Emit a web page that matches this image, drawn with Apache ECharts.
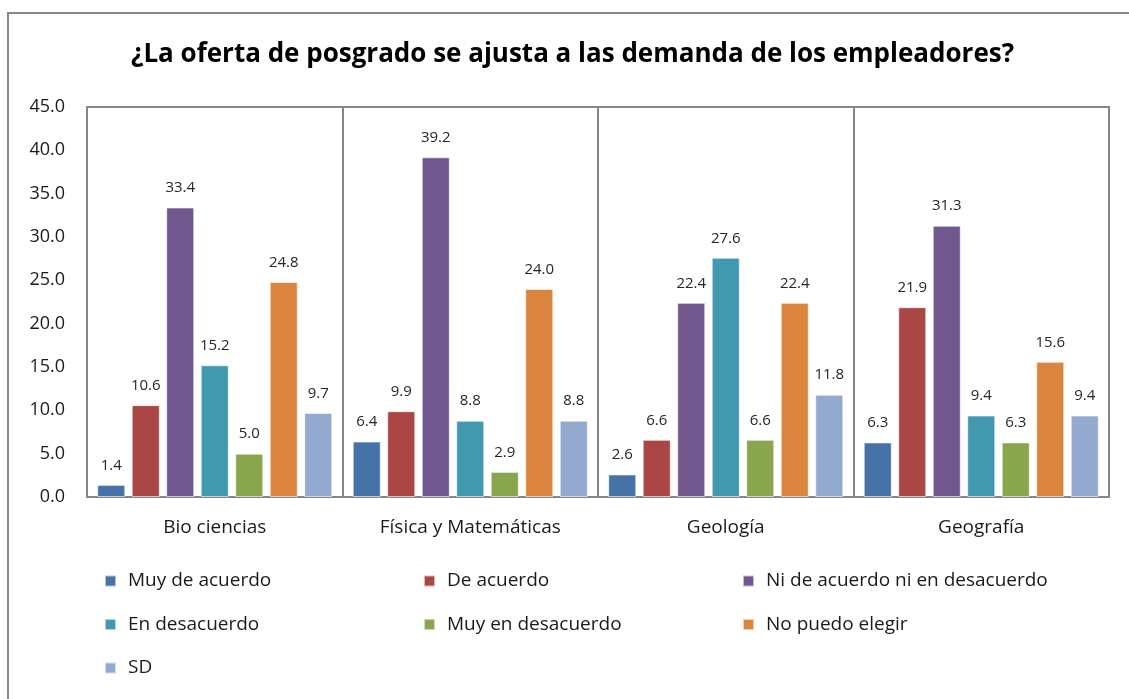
<!DOCTYPE html>
<html>
<head>
<meta charset="utf-8">
<script src="https://cdn.jsdelivr.net/npm/echarts@6/dist/echarts.min.js"></script>
<style>
html,body{margin:0;padding:0;background:#fff;}
#c{width:1129px;height:699px;}
</style>
</head>
<body>
<div id="c"></div>
<script>
const categories = ['Bio ciencias', 'Física y Matemáticas', 'Geología', 'Geografía'];
const seriesNames = ['Muy de acuerdo', 'De acuerdo', 'Ni de acuerdo ni en desacuerdo', 'En desacuerdo', 'Muy en desacuerdo', 'No puedo elegir', 'SD'];
const muyDeAcuerdo = [1.4, 6.4, 2.6, 6.3];
const deAcuerdo = [10.6, 9.9, 6.6, 21.9];
const niNi = [33.4, 39.2, 22.4, 31.3];
const enDesacuerdo = [15.2, 8.8, 27.6, 9.4];
const muyEnDesacuerdo = [5.0, 2.9, 6.6, 6.3];
const noPuedoElegir = [24.8, 24.0, 22.4, 15.6];
const sd = [9.7, 8.8, 11.8, 9.4];
const seriesValues = [muyDeAcuerdo, deAcuerdo, niNi, enDesacuerdo, muyEnDesacuerdo, noPuedoElegir, sd];
const colors = ['#4572A7', '#AA4643', '#71588F', '#4198AF', '#89A54E', '#DB843D', '#93A9CF'];

const FONT = 'Open Sans, Noto Sans, sans-serif';
const chart = echarts.init(document.getElementById('c'));
const legendText = {fontSize: 19, color: '#1a1a1a', fontFamily: FONT, padding: [0, 0, 0, 7], lineHeight: 20};
function legend(left, names) {
  return {
    orient: 'vertical', left: left, top: 571, padding: 0, itemWidth: 11, itemHeight: 11, itemGap: 23.5,
    icon: 'rect', data: names, textStyle: legendText, selectedMode: false
  };
}
chart.setOption({
  animation: false,
  color: colors,
  title: {
    text: '¿La oferta de posgrado se ajusta a las demanda de los empleadores?',
    left: 126, top: 37, padding: [5, 5, 5, 5],
    textStyle: {fontSize: 26, fontWeight: 'bold', color: '#000', fontFamily: FONT}
  },
  graphic: [{
    type: 'polyline', silent: true,
    shape: {points: [[8, 699], [8, 13], [1129, 13]]},
    style: {stroke: '#878787', lineWidth: 2, fill: null}
  }],
  legend: [
    legend(104, [seriesNames[0], seriesNames[3], seriesNames[6]]),
    legend(423, [seriesNames[1], seriesNames[4]]),
    legend(742, [seriesNames[2], seriesNames[5]])
  ],
  grid: {left: 87, top: 107, right: 20, bottom: 202, show: true, borderColor: '#868686', borderWidth: 2},
  xAxis: {
    type: 'category', data: categories,
    axisLine: {show: true, lineStyle: {color: '#868686', width: 2}},
    axisTick: {show: false},
    splitLine: {show: true, lineStyle: {color: '#868686', width: 2}},
    axisLabel: {fontSize: 19, color: '#1a1a1a', fontFamily: FONT, margin: 21}
  },
  yAxis: {
    type: 'value', min: 0, max: 45, interval: 5,
    axisLine: {show: false}, axisTick: {show: false}, splitLine: {show: false},
    axisLabel: {fontSize: 18, color: '#1a1a1a', fontFamily: FONT, margin: 22,
      formatter: v => v.toFixed(1)}
  },
  series: seriesValues.map((vals, i) => ({
    name: seriesNames[i], type: 'bar', data: vals,
    barGap: '23%', barCategoryGap: '8%',
    itemStyle: {borderColor: 'rgba(255,255,255,0.6)', borderWidth: 1},
    label: {show: true, position: 'top', distance: 12, fontSize: 15, color: '#262626',
      fontFamily: FONT, formatter: p => p.value.toFixed(1)}
  }))
});
</script>
</body>
</html>
